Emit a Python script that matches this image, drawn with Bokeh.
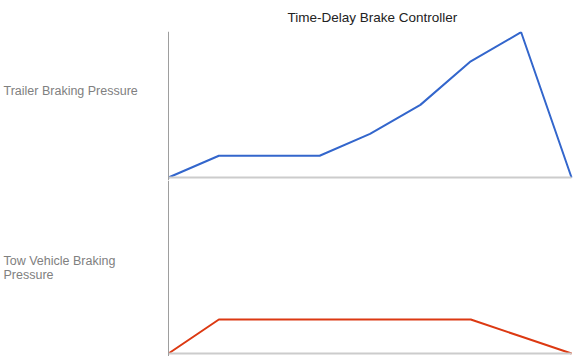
from bokeh.plotting import figure
from bokeh.layouts import column
from bokeh.models import Range1d, Label, FixedTicker
from bokeh.embed import file_html
from bokeh.resources import INLINE

# data
steps = [0, 1, 2, 3, 4, 5, 6, 7, 8]
trailer_pressure = [0, 1.5, 1.5, 1.5, 3, 5, 8, 10, 0]
tow_pressure = [0, 2, 2, 2, 2, 2, 2, 1, 0]
title_text = "Time-Delay Brake Controller"
trailer_label = "Trailer Braking Pressure"
tow_label = "Tow Vehicle Braking\nPressure"

FONT = "Liberation Sans"
x_range = Range1d(-3.335, 8.099)


def make_fig(height, y_range):
    p = figure(width=576, height=height, x_range=x_range, y_range=y_range,
               output_backend="svg", toolbar_location=None,
               min_border_left=0, min_border_right=0, min_border_bottom=0,
               min_border_top=0)
    p.outline_line_color = None
    p.grid.visible = False
    for ax in (p.xaxis, p.yaxis):
        ax.fixed_location = 0
        ax.ticker = FixedTicker(ticks=[])
        ax.major_tick_line_color = None
        ax.minor_tick_line_color = None
    p.xaxis.bounds = (0, 8)
    p.xaxis.axis_line_color = "#cccccc"
    p.xaxis.axis_line_width = 2
    p.yaxis.axis_line_color = "#9e9e9e"
    p.yaxis.axis_line_width = 1
    return p


top = make_fig(180, Range1d(-0.205, 10.05))
top.title.text = title_text
top.title.align = "left"
top.title.offset = 287
top.title.text_font = FONT
top.title.text_font_size = "13.5px"
top.title.text_font_style = "normal"
top.title.text_color = "#222222"
top.title.standoff = 14
top.line(steps, trailer_pressure, line_color="#3366cc", line_width=2)
top.add_layout(Label(x=3, x_units="screen", y=5.95, text=trailer_label,
                     text_font=FONT, text_font_size="12.5px", text_color="#808080",
                     text_baseline="middle", text_align="left"))

bottom = make_fig(176, Range1d(-0.176, 10.176))
bottom.line(steps, tow_pressure, line_color="#dc3912", line_width=2)
bottom.add_layout(Label(x=3, x_units="screen", y=5.03, text=tow_label,
                        text_font=FONT, text_font_size="12.5px", text_color="#808080",
                        text_baseline="middle", text_align="left",
                        text_line_height=1.05))

layout = column(top, bottom, spacing=0)
open("out.html", "w").write(file_html(layout, INLINE))
